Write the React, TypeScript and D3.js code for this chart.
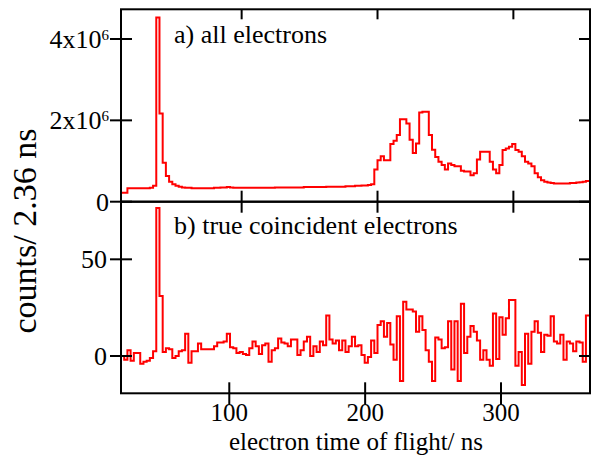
import { useEffect, useRef } from 'react';
import * as d3 from 'd3';

const WIDTH = 593;
const HEIGHT = 456;
const FONT = 'Liberation Serif, DejaVu Serif, Times New Roman, serif';

// each histogram bin is 2.36 ns wide
const BIN_NS = 2.36;
const TOP_FIRST_BIN = 11.2;
const BOTTOM_FIRST_BIN = 20.3;

// a) all electrons, counts in units of 10^6
const allElectrons = [
  0.22, 0.22, 0.33, 0.33, 0.33, 0.33, 0.33, 0.33, 0.33, 0.34,
  0.39, 4.53, 2.17, 0.96, 0.63, 0.49, 0.43, 0.39, 0.37, 0.35,
  0.34, 0.34, 0.33, 0.33, 0.33, 0.33, 0.33, 0.33, 0.33, 0.34,
  0.34, 0.35, 0.35, 0.36, 0.35, 0.34, 0.34, 0.34, 0.34, 0.34,
  0.34, 0.34, 0.34, 0.34, 0.34, 0.34, 0.34, 0.34, 0.35, 0.35,
  0.35, 0.35, 0.35, 0.35, 0.35, 0.35, 0.35, 0.36, 0.36, 0.36,
  0.36, 0.36, 0.36, 0.36, 0.37, 0.37, 0.37, 0.37, 0.37, 0.37,
  0.38, 0.38, 0.38, 0.39, 0.39, 0.4, 0.4, 0.41, 0.43, 0.79,
  1.02, 1.12, 1.02, 1.02, 1.42, 1.5, 1.64, 2.03, 2.03, 1.92,
  1.52, 1.2, 1.43, 2.19, 2.21, 2.21, 1.64, 1.28, 1.1, 0.98,
  0.9, 0.79, 0.94, 0.9, 0.87, 0.87, 0.76, 0.74, 0.74, 0.65,
  0.7, 1.04, 1.23, 1.23, 1.23, 0.98, 0.79, 0.7, 0.9, 1.27,
  1.31, 1.35, 1.42, 1.27, 1.23, 1.12, 0.98, 0.94, 0.87, 0.7,
  0.6, 0.53, 0.49, 0.47, 0.46, 0.45, 0.45, 0.45, 0.45, 0.45,
  0.46, 0.46, 0.47, 0.48, 0.49, 0.51,
];

// b) true coincident electrons, counts
const trueCoincident = [
  0, -2, 3, -2.5, 1.5, 1.5, -4, -3, -2.5, -1,
  2.5, 76.5, 31, 2, 4, 3.5, -1, 0, 2.5, 3,
  11.5, -3.5, 2.5, 2.5, 6.5, 3.5, 3.5, 3.5, 3.5, 5,
  7, 7, 7.5, 11.5, 4.5, 4, 1.5, 2, 1, 0.5,
  4, 7.5, 5, 1, 5.5, 6.5, -3, 3, 4, 9,
  7, 6.5, 5, 8.5, 8.5, 0.5, 3, 7.5, 10, 0,
  5, 2, 7.5, 5.5, 21, 8.5, 6.5, 8, 3, 8,
  2, 5, 10, 5, 5.5, 0.5, -3.5, -0.5, 8, 1.5,
  16, 18, 10, 17, 6, -2, 20.5, -13, 28, 24,
  24, 23, 12.5, 20.5, 13.5, 3, -3, -13, 9.5, 8.5,
  4, 4.5, 18, -7, 18, -13, 27, 1.5, 10, 15.5,
  12.5, 8, -2, 3, -2, -5, 22, -1.5, 20, 11,
  19.5, 29, 29, -5, 2, -15, 11.5, -4, 12.5, 18,
  12, 2, 11, 10.5, 20.5, 7.5, 6.5, 11, -2, 7.5,
  6.5, 2.5, 7.5, 7, -3, 21,
];

const timeTicks = [100, 200, 300];
const allTicks = [0, 2, 4];
const coincTicks = [0, 50];

const L = 121;
const R = 590;
const TOP = 9.3;
const MID = 201.7;
const BOTTOM = 393.3;

function histPoints(values: number[], first: number): [number, number][] {
  const pts = values.map((v, i) => [first + i * BIN_NS, v] as [number, number]);
  pts.push([first + values.length * BIN_NS, values[values.length - 1]]);
  return pts;
}

export default function App() {
  const svgRef = useRef<SVGSVGElement>(null);

  useEffect(() => {
    const svg = d3.select(svgRef.current);
    svg.selectAll('*').remove();

    const xTop = d3.scaleLinear().domain([11.2, 356.4]).range([L, R]);
    const xBot = d3.scaleLinear().domain([20.3, 365.5]).range([L, R]);
    const yTop = d3.scaleLinear().domain([0, 4.73]).range([MID, TOP]);
    const yBot = d3.scaleLinear().domain([-19.3, 79.8]).range([BOTTOM, MID]);

    const defs = svg.append('defs');
    defs.append('clipPath').attr('id', 'clipTop')
      .append('rect').attr('x', L).attr('y', TOP).attr('width', R - L).attr('height', MID - TOP);
    defs.append('clipPath').attr('id', 'clipBot')
      .append('rect').attr('x', L).attr('y', MID).attr('width', R - L).attr('height', BOTTOM - MID);

    const lineTop = d3.line<[number, number]>()
      .x((d) => xTop(d[0])).y((d) => yTop(d[1])).curve(d3.curveStepAfter);
    const lineBot = d3.line<[number, number]>()
      .x((d) => xBot(d[0])).y((d) => yBot(d[1])).curve(d3.curveStepAfter);

    svg.append('path')
      .attr('clip-path', 'url(#clipTop)')
      .attr('d', lineTop(histPoints(allElectrons, TOP_FIRST_BIN)))
      .attr('fill', 'none').attr('stroke', '#ff0000').attr('stroke-width', 2);
    svg.append('path')
      .attr('clip-path', 'url(#clipBot)')
      .attr('d', lineBot(histPoints(trueCoincident, BOTTOM_FIRST_BIN)))
      .attr('fill', 'none').attr('stroke', '#ff0000').attr('stroke-width', 2);

    const ink = svg.append('g').attr('stroke', '#000').attr('stroke-width', 2).attr('fill', 'none');
    ink.append('rect').attr('x', L).attr('y', TOP).attr('width', R - L).attr('height', MID - TOP);
    ink.append('rect').attr('x', L).attr('y', MID).attr('width', R - L).attr('height', BOTTOM - MID);

    const tick = (x1: number, y1: number, x2: number, y2: number) =>
      ink.append('line').attr('x1', x1).attr('y1', y1).attr('x2', x2).attr('y2', y2);

    timeTicks.forEach((t) => {
      const xt = xTop(t);
      tick(xt, TOP, xt, TOP + 10);
      tick(xt, MID - 11, xt, MID + 11);
      const xb = xBot(t);
      tick(xb, BOTTOM - 11, xb, BOTTOM + 11);
    });
    allTicks.forEach((v) => {
      const y = yTop(v);
      tick(L - 11, y, L + 11, y);
      tick(R - 11, y, R, y);
    });
    coincTicks.forEach((v) => {
      const y = yBot(v);
      tick(L - 11, y, L + 11, y);
      tick(R - 11, y, R, y);
    });

    const label = (x: number, y: number, size: number, anchor = 'start') =>
      svg.append('text')
        .attr('x', x).attr('y', y)
        .attr('font-family', FONT).attr('font-size', size)
        .attr('text-anchor', anchor).attr('fill', '#000');

    timeTicks.forEach((t) => {
      label(xBot(t), 421, 25, 'middle').text(t);
    });

    allTicks.forEach((v) => {
      const lab = label(109, yTop(v), 26, 'end').attr('dy', '0.35em');
      if (v === 0) {
        lab.text('0');
      } else {
        lab.append('tspan').text(`${v}x10`);
        lab.append('tspan').attr('font-size', 15).attr('dy', -8).text('6');
      }
    });
    coincTicks.forEach((v) => {
      label(107, yBot(v), 26, 'end').attr('dy', '0.35em').text(v);
    });

    label(174, 43, 26).text('a) all electrons');
    label(174, 234, 26).text('b) true coincident electrons');

    label(356, 450, 25, 'middle').text('electron time of flight/ ns');
    label(0, 0, 34, 'middle')
      .attr('transform', 'translate(36,231) rotate(-90)')
      .text('counts/ 2.36 ns');
  }, []);

  return (
    <svg
      ref={svgRef}
      width={WIDTH}
      height={HEIGHT}
      viewBox={`0 0 ${WIDTH} ${HEIGHT}`}
      style={{ position: 'absolute', left: 0, top: 0, background: '#fff' }}
    />
  );
}
